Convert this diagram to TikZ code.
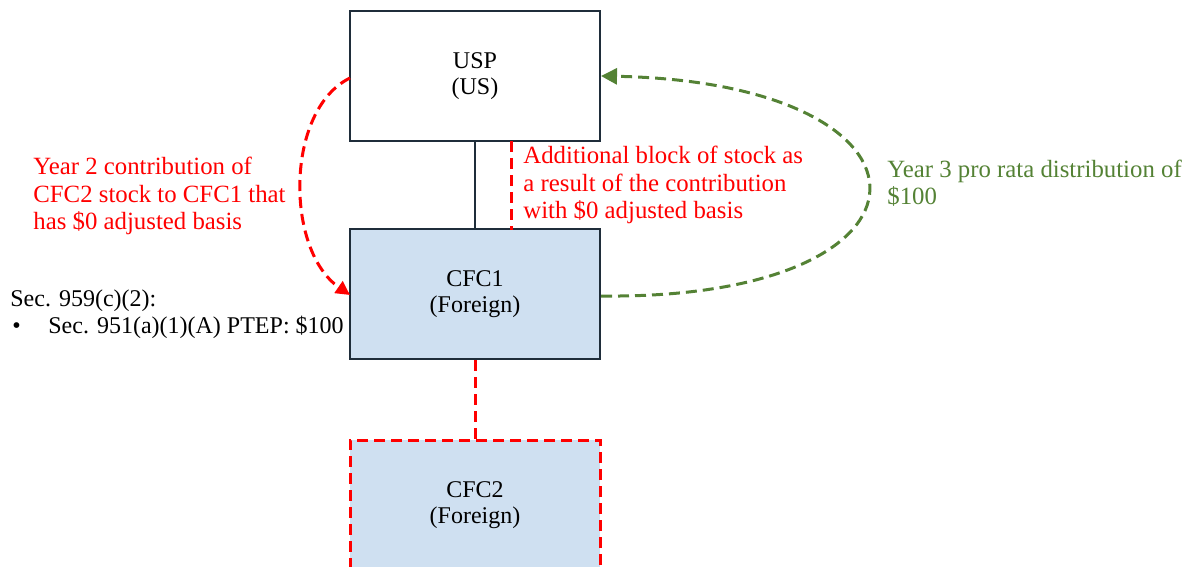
\documentclass[tikz,border=0pt]{standalone}
\usepackage{fontspec}
\setmainfont{Liberation Serif}
\usepackage{xcolor}
\usetikzlibrary{positioning, arrows.meta}

\definecolor{boxline}{RGB}{31,45,58}
\definecolor{boxfill}{RGB}{207,224,241}
\definecolor{distgreen}{RGB}{84,130,53}
\definecolor{contred}{RGB}{255,0,0}

\begin{document}
\begin{tikzpicture}[x=0.5pt, y=-0.5pt]
  % 样式
  \tikzset{entity/.style = {rectangle, draw=boxline, line width=1pt, minimum width=125pt, minimum height=65pt,
      align=center, font=\fontsize{12}{13}\selectfont}}
  \tikzset{note/.style = {align=left, inner sep=0pt, anchor=west, font=\fontsize{12.4}{13.6}\selectfont}}
  \tikzset{reddash/.style = {draw=contred, line width=1.5pt, dash pattern=on 5.5pt off 3pt}}
  \tikzset{greendash/.style = {draw=distgreen, line width=1.5pt, dash pattern=on 5.5pt off 3pt}}

  \useasboundingbox (0,0) rectangle (1194,567);
  \clip (0,0) rectangle (1194,567);

  % 实体
  \node[entity] (usp) at (475,76) {USP\\(US)};
  \node[entity, fill=boxfill] (cfc1) at (475,294) {CFC1\\(Foreign)};
  \node[entity, fill=boxfill, reddash] (cfc2) at (475,505) {CFC2\\(Foreign)};

  % 所有权
  \draw[boxline, line width=0.8pt] (usp.south) -- (cfc1.north);
  \coordinate (blocktop) at (511,141);
  \coordinate (blockbot) at (511,230);
  \draw[reddash] (blocktop) -- (blockbot);
  \draw[reddash] (cfc1.south) -- (cfc2.north);

  % 出资与分配
  \coordinate (contstart) at (350,78);
  \coordinate (contend) at (350,295);
  \draw[reddash, -{Triangle[length=7pt, width=7pt]}]
    (contstart) .. controls (285,110) and (285,250) .. (contend);
  \coordinate (diststart) at (601,296);
  \coordinate (distend) at (601,76);
  \draw[greendash, -{Triangle[length=8pt, width=8pt]}]
    (diststart) .. controls (957,300) and (957,83) .. (distend);

  % 说明
  \node[note, text=contred] (contnote) at (33,196) {Year 2 contribution of\\CFC2 stock to CFC1 that\\has \$0 adjusted basis};
  \node[note, text=contred] (blocknote) at (523,185) {Additional block of stock as\\a result of the contribution\\with \$0 adjusted basis};
  \node[note, text=distgreen] (distnote) at (887,183) {Year 3 pro rata distribution of\\\$100};
  \node[note, font=\fontsize{12}{13.5}\selectfont] (ptep) at (10,314) {Sec. 959(c)(2):\\\hspace*{1pt}\makebox[18pt][l]{\textbullet}Sec. 951(a)(1)(A) PTEP: \$100};
\end{tikzpicture}
\end{document}
